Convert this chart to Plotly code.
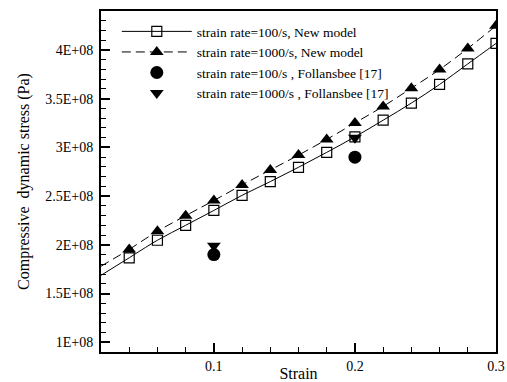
import plotly.graph_objects as go

# Data
strain = [0.04, 0.06, 0.08, 0.10, 0.12, 0.14, 0.16, 0.18, 0.20, 0.22, 0.24, 0.26, 0.28, 0.30]
stress_100 = [1.867e8, 2.047e8, 2.20e8, 2.353e8, 2.508e8, 2.649e8, 2.796e8, 2.949e8,
              3.108e8, 3.279e8, 3.455e8, 3.646e8, 3.857e8, 4.067e8]
stress_1000 = [1.952e8, 2.139e8, 2.299e8, 2.455e8, 2.615e8, 2.768e8, 2.921e8, 3.082e8,
               3.251e8, 3.421e8, 3.608e8, 3.799e8, 4.016e8, 4.248e8]
# model curves start at the left edge of the axis
line_start_x = 0.02
line_start_100 = 1.687e8
line_start_1000 = 1.78e8

exp_strain = [0.1, 0.2]
exp_100 = [1.90e8, 2.90e8]
exp_1000 = [1.99e8, 3.10e8]

ytick_vals = [1e8, 1.5e8, 2e8, 2.5e8, 3e8, 3.5e8, 4e8]
ytick_text = ["1E+08", "1.5E+08", "2E+08", "2.5E+08", "3E+08", "3.5E+08", "4E+08"]
xtick_vals = [0.1, 0.2, 0.3]
xtick_text = ["0.1", "0.2", "0.3"]

names = ["strain rate=100/s, New model", "strain rate=1000/s, New model",
         "strain rate=100/s , Follansbee [17]", "strain rate=1000/s , Follansbee [17]"]

FONT = "Liberation Serif, Times New Roman, serif"
DASH = "9px,5px"

fig = go.Figure()

# Leading curve segments from the axis edge to the first modelled point
fig.add_trace(go.Scatter(x=[line_start_x, strain[0]], y=[line_start_100, stress_100[0]],
                         mode="lines", line=dict(color="black", width=1),
                         showlegend=False, hoverinfo="skip"))
fig.add_trace(go.Scatter(x=[line_start_x, strain[0]], y=[line_start_1000, stress_1000[0]],
                         mode="lines", line=dict(color="black", width=1, dash=DASH),
                         showlegend=False, hoverinfo="skip"))

# Model curves with markers
fig.add_trace(go.Scatter(x=strain, y=stress_100, mode="lines+markers", name=names[0],
                         line=dict(color="black", width=1, shape="spline"),
                         marker=dict(symbol="square-open", size=10, color="black",
                                     line=dict(width=1.2, color="black"))))
fig.add_trace(go.Scatter(x=strain, y=stress_1000, mode="lines+markers", name=names[1],
                         line=dict(color="black", width=1, dash=DASH, shape="spline"),
                         marker=dict(symbol="triangle-up", size=12, color="black")))
fig.add_trace(go.Scatter(x=exp_strain, y=exp_100, mode="markers", name=names[2],
                         marker=dict(symbol="circle", size=13, color="black")))
fig.add_trace(go.Scatter(x=exp_strain, y=exp_1000, mode="markers", name=names[3],
                         marker=dict(symbol="triangle-down", size=12, color="black")))

axis_common = dict(showline=True, linecolor="black", linewidth=2, mirror=True,
                   ticks="inside", tickcolor="black", tickwidth=1.5, ticklen=9,
                   showgrid=False, zeroline=False, automargin=False,
                   tickfont=dict(family=FONT, size=14, color="black"))

fig.update_xaxes(range=[0.02, 0.3], tickvals=xtick_vals, ticktext=xtick_text,
                 title=dict(text="Strain", font=dict(family=FONT, size=16, color="black"), standoff=0),
                 minor=dict(dtick=0.02, tick0=0.0, ticks="inside", ticklen=5, tickcolor="black", tickwidth=1),
                 **axis_common)
fig.update_yaxes(range=[0.9e8, 4.4e8], tickvals=ytick_vals, ticktext=ytick_text,
                 ticklabelstandoff=3,
                 title=dict(text="Compressive  dynamic stress (Pa)", font=dict(family=FONT, size=16, color="black"), standoff=12),
                 minor=dict(dtick=1e7, tick0=0, ticks="inside", ticklen=5, tickcolor="black", tickwidth=1),
                 **axis_common)

fig.update_layout(
    width=507, height=382,
    margin=dict(l=101, r=11, t=11, b=30),
    plot_bgcolor="white", paper_bgcolor="white",
    font=dict(family=FONT, color="black"),
    legend=dict(x=0.04, y=0.985, xanchor="left", yanchor="top",
                bgcolor="rgba(0,0,0,0)", borderwidth=0,
                font=dict(family=FONT, size=13.5, color="black"),
                tracegroupgap=0, itemwidth=70),
)

fig.write_html("out.html")
